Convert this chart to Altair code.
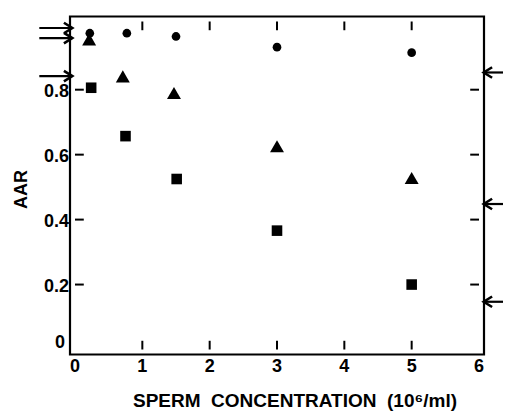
import altair as alt
import pandas as pd

# ---- data ----
conc_circle = [0.22, 0.77, 1.5, 3.0, 5.0]
aar_circle = [0.974, 0.974, 0.964, 0.931, 0.914]
conc_triangle = [0.21, 0.71, 1.47, 3.0, 5.0]
aar_triangle = [0.955, 0.841, 0.79, 0.626, 0.528]
conc_square = [0.24, 0.75, 1.51, 3.0, 5.0]
aar_square = [0.806, 0.657, 0.525, 0.366, 0.2]

left_arrow_aar = [0.99, 0.959, 0.842]
right_arrow_aar = [0.853, 0.448, 0.147]
left_arrow_span = [-0.53, -0.04]   # tail, tip
right_arrow_span = [6.45, 6.07]    # tail, tip

x_ticks = [0, 1, 2, 3, 4, 5, 6]
x_tick_labels = ["0", "1", "2", "3", "4", "5", "6"]
x_inner_ticks = [1, 2, 3, 4, 5]
y_ticks = [0.2, 0.4, 0.6, 0.8]
y_tick_labels = ["0.2", "0.4", "0.6", "0.8"]
y_inner_ticks = [0.2, 0.4, 0.6, 0.8]

x_title = "SPERM\u00a0 CONCENTRATION\u00a0 (10\u2076/ml)"
y_title = "AAR"

X_MAX, Y_MAX = 6, 1.01
W, H, TICK = 414, 338, 9
TX = TICK / W * X_MAX
TY = TICK / H * Y_MAX
FONT = "Liberation Sans, Arial, sans-serif"

circles = pd.DataFrame({"conc": conc_circle, "aar": aar_circle})
triangles = pd.DataFrame({"conc": conc_triangle, "aar": aar_triangle})
squares = pd.DataFrame({"conc": conc_square, "aar": aar_square})

arrows_left = pd.DataFrame({
    "aar": left_arrow_aar,
    "conc": [left_arrow_span[0]] * len(left_arrow_aar),
    "tip": [left_arrow_span[1]] * len(left_arrow_aar),
})
arrows_right = pd.DataFrame({
    "aar": right_arrow_aar,
    "conc": [right_arrow_span[0]] * len(right_arrow_aar),
    "tip": [right_arrow_span[1]] * len(right_arrow_aar),
})
vt = pd.DataFrame({
    "conc": x_inner_ticks * 2,
    "aar": [0.0] * len(x_inner_ticks) + [Y_MAX - TY] * len(x_inner_ticks),
    "aar2": [TY] * len(x_inner_ticks) + [Y_MAX] * len(x_inner_ticks),
})
ht = pd.DataFrame({
    "aar": y_inner_ticks * 2,
    "conc": [0.0] * len(y_inner_ticks) + [X_MAX - TX] * len(y_inner_ticks),
    "conc2": [TX] * len(y_inner_ticks) + [float(X_MAX)] * len(y_inner_ticks),
})

xlab = pd.DataFrame({"conc": x_ticks, "aar": [0.0] * len(x_ticks), "label": x_tick_labels})
ylab = pd.DataFrame({"conc": [0.0] * len(y_ticks), "aar": y_ticks, "label": y_tick_labels})
ylab0 = pd.DataFrame({"conc": [0.0], "aar": [0.0], "label": ["0"]})

xs = alt.Scale(domain=[0, X_MAX], nice=False, zero=False)
ys = alt.Scale(domain=[0, Y_MAX], nice=False, zero=False)

X = alt.X("conc:Q", scale=xs, axis=None)
Y = alt.Y("aar:Q", scale=ys, axis=None)

def series(df, shape, size):
    return alt.Chart(df).mark_point(
        filled=True, shape=shape, size=size, color="black", opacity=1, strokeWidth=0
    ).encode(x=X, y=Y)

def arrows(df, head_path):
    rule = alt.Chart(df).mark_rule(color="black", strokeWidth=2.2).encode(
        x=X, x2="tip:Q", y=Y,
    )
    head = alt.Chart(df).mark_point(
        shape=head_path, size=110, filled=False, color="black", strokeWidth=2.6, opacity=1
    ).encode(x=alt.X("tip:Q", scale=xs, axis=None), y=Y)
    return rule + head

def labels(df, **kw):
    return alt.Chart(df).mark_text(
        font=FONT, fontSize=18, fontWeight="bold", color="black", **kw
    ).encode(x=X, y=Y, text="label:N")

# inward ticks as thin bars
v_ticks = alt.Chart(vt).mark_bar(color="black", size=2, opacity=1).encode(
    x=X, y=Y, y2="aar2:Q")
h_ticks = alt.Chart(ht).mark_bar(color="black", size=2, opacity=1).encode(
    y=Y, x=X, x2="conc2:Q")

x_title_mark = alt.Chart(pd.DataFrame({"t": [x_title]})).mark_text(
    font=FONT, fontSize=19, fontWeight="bold", color="black",
    align="center", baseline="alphabetic",
).encode(x=alt.value(225), y=alt.value(H + 52), text="t:N")

y_title_mark = alt.Chart(pd.DataFrame({"t": [y_title]})).mark_text(
    font=FONT, fontSize=18, fontWeight="bold", color="black",
    align="center", baseline="middle", angle=270,
).encode(x=alt.value(-48), y=alt.value(173), text="t:N")

chart = alt.layer(
    series(circles, "circle", 75),
    series(triangles, "triangle-up", 195),
    series(squares, "square", 112),
    arrows(arrows_left, "M -1.6 -1 L 0 0 L -1.6 1"),
    arrows(arrows_right, "M 1.6 -1 L 0 0 L 1.6 1"),
    v_ticks,
    h_ticks,
    labels(xlab, align="center", baseline="middle", dy=17),
    labels(ylab, align="right", baseline="middle", dx=-6, dy=2),
    labels(ylab0, align="right", baseline="middle", dx=-10, dy=-7),
    x_title_mark,
    y_title_mark,
).properties(
    width=W, height=H,
    padding={"left": 62, "top": 8.5, "right": 19, "bottom": 56.5},
    autosize=alt.AutoSizeParams(type="none"),
    background="white",
).configure_view(stroke="black", strokeWidth=2.2)

chart.save("out.html", embed_options={"renderer": "svg", "actions": False})
